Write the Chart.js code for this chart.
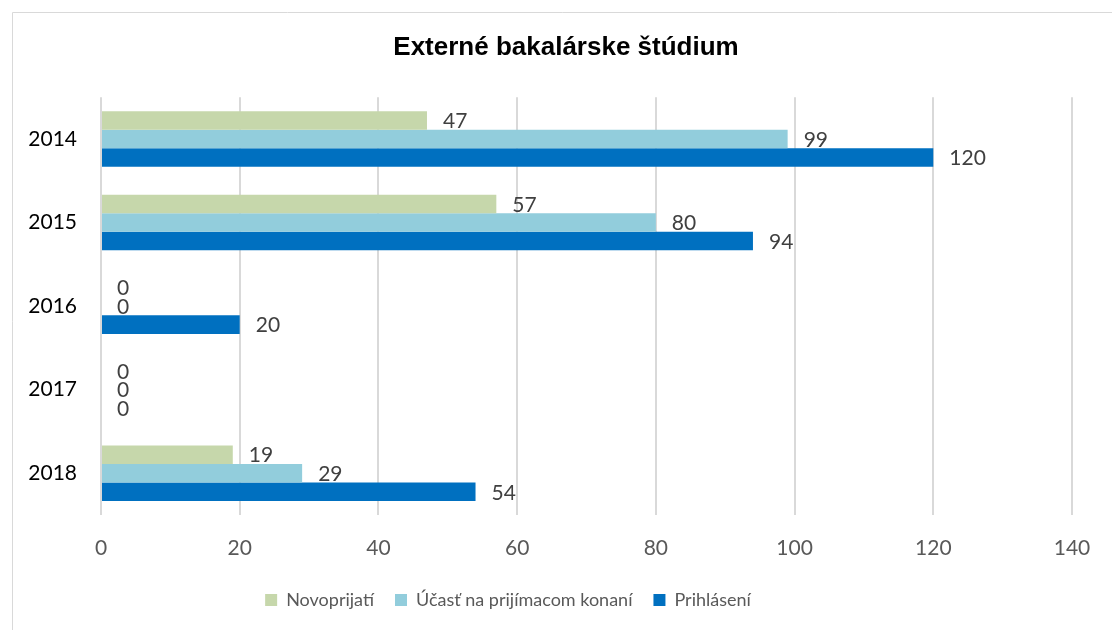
<!DOCTYPE html>
<html>
<head>
<meta charset="utf-8">
<script src="https://cdn.jsdelivr.net/npm/chart.js@4.4.0/dist/chart.umd.min.js"></script>
<style>
  body { margin: 0; background: #fff; overflow: hidden; }
  #wrap { position: relative; width: 1112px; height: 630px; }
</style>
</head>
<body>
<div id="wrap"><canvas id="chart"></canvas></div>
<script>
// data
let years = ['2014', '2015', '2016', '2017', '2018'];
let novoprijati = [47, 57, 0, 0, 19];
let ucast = [99, 80, 0, 0, 29];
let prihlaseni = [120, 94, 20, 0, 54];
let xTicks = [0, 20, 40, 60, 80, 100, 120, 140];

// frame of the chart (only top and left edges are visible)
const framePlugin = {
    id: 'frame',
    beforeDraw(chart) {
        const c = chart.ctx;
        c.save();
        c.strokeStyle = '#d9d9d9';
        c.lineWidth = 1;
        c.beginPath();
        c.moveTo(12.5, chart.height);
        c.lineTo(12.5, 12.5);
        c.lineTo(chart.width, 12.5);
        c.stroke();
        c.restore();
    }
};

// the original chart was wider than the crop: nudge title right, legend left
const shiftPlugin = {
    id: 'shift',
    afterLayout(chart) {
        if (chart.titleBlock) {
            chart.titleBlock.left += 30;
            chart.titleBlock.right += 30;
        }
        if (chart.legend) {
            chart.legend.left -= 28;
            chart.legend.right -= 28;
        }
    }
};

// value labels at bar ends
const valuePlugin = {
    id: 'values',
    afterDatasetsDraw(chart) {
        const c = chart.ctx;
        c.save();
        c.font = '21px Lato';
        c.fillStyle = '#404040';
        c.textAlign = 'left';
        c.textBaseline = 'middle';
        chart.data.datasets.forEach((ds, i) => {
            chart.getDatasetMeta(i).data.forEach((bar, j) => {
                c.fillText(ds.data[j], bar.x + 16, bar.y + 1);
            });
        });
        c.restore();
    }
};

var ctx = document.getElementById('chart').getContext('2d');
var chart = new Chart(ctx, {
    type: 'bar',
    data: {
        labels: years,
        datasets: [
            { label: 'Novoprijatí', data: novoprijati, backgroundColor: '#c6d7ab' },
            { label: 'Účasť na prijímacom konaní', data: ucast, backgroundColor: '#92cddc' },
            { label: 'Prihlásení', data: prihlaseni, backgroundColor: '#0070c0' }
        ]
    },
    options: {
        indexAxis: 'y',
        responsive: true,
        maintainAspectRatio: false,
        animation: false,
        categoryPercentage: 0.665,
        barPercentage: 1,
        layout: { padding: { left: 0, right: 40, top: 0, bottom: 11 } },
        scales: {
            x: {
                min: 0,
                max: 140,
                afterBuildTicks: (s) => { s.ticks = xTicks.map(v => ({ value: v })); },
                afterFit: (s) => { s.height = 55; },
                grid: { color: '#d9d9d9', lineWidth: 2, drawTicks: false },
                border: { display: false },
                ticks: { color: '#595959', font: { family: 'Lato', size: 21 }, padding: 21 }
            },
            y: {
                afterFit: (s) => { s.width = 101; },
                grid: { display: false, drawTicks: false },
                border: { display: false },
                ticks: { color: '#000000', font: { family: 'Lato', size: 21 }, padding: 24 }
            }
        },
        plugins: {
            title: {
                display: true,
                text: 'Externé bakalárske štúdium',
                color: '#000000',
                font: { family: 'Liberation Sans', size: 26, weight: 'bold', lineHeight: 1.2 },
                padding: { top: 32, bottom: 34 }
            },
            legend: {
                position: 'bottom',
                labels: {
                    color: '#595959',
                    font: { family: 'Lato', size: 18 },
                    boxWidth: 12,
                    boxHeight: 12,
                    padding: 21
                }
            },
            tooltip: { enabled: false }
        }
    },
    plugins: [framePlugin, shiftPlugin, valuePlugin]
});
</script>
</body>
</html>
